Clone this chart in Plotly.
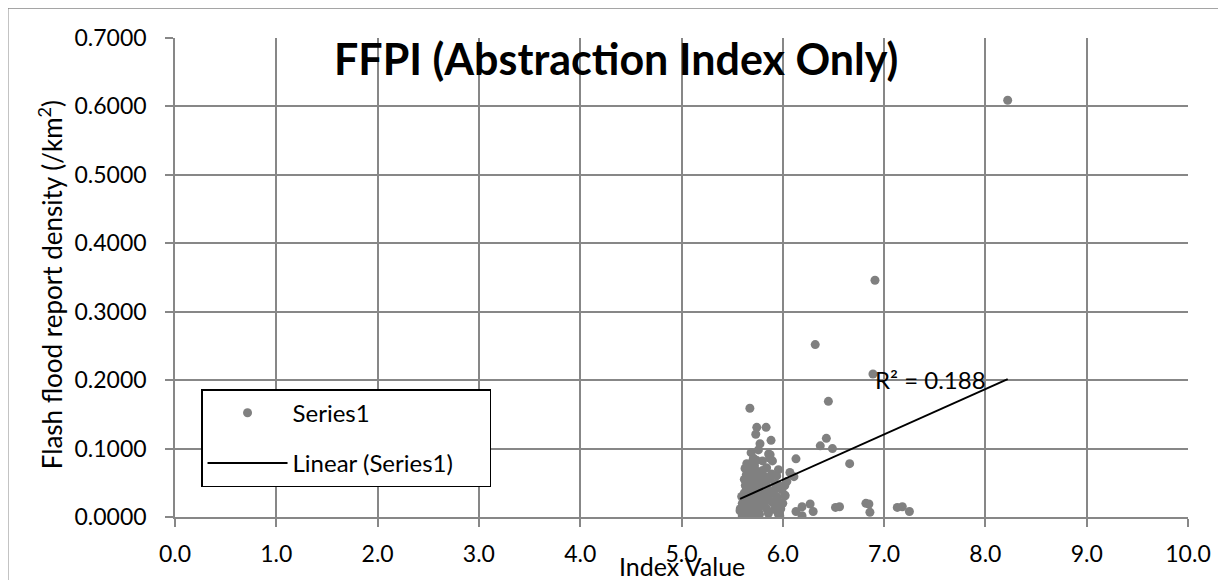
import plotly.graph_objects as go

# ---- data ----
index_value = [
    8.22, 6.91, 6.32, 6.89, 6.45, 6.43, 6.37, 6.49, 6.13, 6.66, 6.07, 6.11, 6.02, 6.02,
    6.27, 6.19, 6.13, 6.19, 6.30, 6.52, 6.56, 6.82, 6.85, 6.86, 7.13, 7.18, 7.25,
    5.675, 5.743, 5.835, 5.733, 5.884, 5.775, 5.759, 5.687, 5.875, 5.644, 5.799, 5.898,
    5.627, 5.727, 5.957, 5.825, 5.653, 5.775, 5.924, 5.644, 5.858, 5.990, 6.023, 5.941,
    5.594, 5.825, 5.957, 5.611, 5.693, 5.759, 5.858, 5.957, 5.660, 5.578,
    5.60, 5.62, 5.64, 5.66, 5.68, 5.70, 5.72, 5.74, 5.58, 5.61, 5.63, 5.65, 5.67, 5.69,
    5.71, 5.73, 5.75, 5.77, 5.60, 5.62, 5.64, 5.66, 5.68, 5.70, 5.72, 5.74, 5.76, 5.78,
    5.62, 5.64, 5.66, 5.68, 5.70, 5.72, 5.74, 5.63, 5.65, 5.67, 5.69, 5.71, 5.73, 5.64,
    5.66, 5.68, 5.70, 5.72, 5.66, 5.69, 5.74, 5.62, 5.80, 5.82, 5.84, 5.79, 5.81, 5.86,
    5.88, 5.90, 5.92, 5.94, 5.96, 5.89, 5.84, 5.80, 5.78, 5.76, 5.83, 5.87, 5.91, 5.95,
    5.98, 6.00, 6.04, 5.97, 5.87, 5.86, 5.71,
]
report_density = [
    0.609, 0.346, 0.252, 0.209, 0.169, 0.115, 0.104, 0.100, 0.085, 0.078, 0.065, 0.059, 0.046, 0.032,
    0.019, 0.015, 0.008, 0.002, 0.008, 0.014, 0.015, 0.020, 0.019, 0.007, 0.014, 0.015, 0.008,
    0.159, 0.131, 0.131, 0.121, 0.112, 0.107, 0.098, 0.094, 0.091, 0.078, 0.082, 0.082,
    0.071, 0.069, 0.069, 0.059, 0.057, 0.049, 0.049, 0.042, 0.040, 0.040, 0.031, 0.030,
    0.030, 0.025, 0.018, 0.015, 0.013, 0.008, 0.005, 0.004, 0.003, 0.009,
    0.002, 0.004, 0.001, 0.006, 0.003, 0.002, 0.005, 0.001, 0.012, 0.010, 0.014, 0.011, 0.017, 0.009,
    0.013, 0.018, 0.012, 0.004, 0.020, 0.024, 0.021, 0.027, 0.022, 0.026, 0.031, 0.024, 0.020, 0.016,
    0.035, 0.038, 0.033, 0.040, 0.036, 0.044, 0.037, 0.046, 0.050, 0.045, 0.053, 0.049, 0.056, 0.062,
    0.066, 0.060, 0.064, 0.075, 0.074, 0.079, 0.083, 0.055, 0.030, 0.020, 0.012, 0.044, 0.036, 0.027,
    0.034, 0.021, 0.011, 0.060, 0.046, 0.063, 0.072, 0.068, 0.058, 0.065, 0.048, 0.055, 0.038, 0.025,
    0.012, 0.020, 0.052, 0.002, 0.086, 0.092, 0.086,
]

trend_slope = 0.0662
trend_intercept = -0.3427
r_squared_label = "R² = 0.188"

x_ticks = [0, 1, 2, 3, 4, 5, 6, 7, 8, 9, 10]
y_ticks = [0.0, 0.1, 0.2, 0.3, 0.4, 0.5, 0.6, 0.7]

chart_title = "FFPI (Abstraction Index Only)"
x_title = "Index Value"
y_title = "Flash flood report density (/km<sup>2</sup>)"

# ---- figure ----
FONT = "Lato, 'DejaVu Sans', sans-serif"
GRID = "#878787"

trend_x = [min(index_value), max(index_value)]
trend_y = [trend_intercept + trend_slope * v for v in trend_x]

NB = "\u00a0"

fig = go.Figure()
fig.add_trace(go.Scatter(
    x=index_value, y=report_density, mode="markers", name="Series1",
    marker=dict(color="#808080", size=9, line=dict(width=0)),
    legendgroup="a",
))
fig.add_trace(go.Scatter(
    x=trend_x, y=trend_y, mode="lines", name="Linear (Series1)" + NB * 5,
    line=dict(color="black", width=2),
    legendgroup="b",
))

fig.update_layout(
    width=1218, height=572,
    margin=dict(l=167, r=38, t=30, b=63),
    paper_bgcolor="white", plot_bgcolor="white",
    font=dict(family=FONT, size=23, color="black"),
    showlegend=True,
    legend=dict(
        x=0.0257, y=0.267, xanchor="left", yanchor="top",
        bordercolor="black", borderwidth=1.5, bgcolor="white",
        font=dict(size=24, family=FONT), itemwidth=80, tracegroupgap=16,
    ),
    xaxis=dict(
        range=[0, 10], tickvals=x_ticks, tickformat=".1f",
        showgrid=True, gridcolor=GRID, gridwidth=1.5,
        showline=True, linecolor=GRID, linewidth=1.5,
        ticks="outside", ticklen=8, tickcolor=GRID, tickwidth=1.5,
        zeroline=False, ticklabelstandoff=8,
        tickfont=dict(size=23),
    ),
    yaxis=dict(
        range=[0, 0.7], tickvals=y_ticks, tickformat=".4f",
        showgrid=True, gridcolor=GRID, gridwidth=1.5,
        showline=True, linecolor=GRID, linewidth=1.5,
        ticks="outside", ticklen=8, tickcolor=GRID, tickwidth=1.5,
        zeroline=False, ticklabelstandoff=14,
        tickfont=dict(size=23),
    ),
)

fig.add_annotation(
    text=f"<b>{chart_title}</b>", xref="paper", yref="paper",
    x=0.4353, y=0.957, xanchor="center", yanchor="middle",
    showarrow=False, font=dict(size=43, family=FONT, color="black"),
)
fig.add_annotation(
    text=x_title, xref="paper", yref="paper",
    x=0.5, y=-0.102, xanchor="center", yanchor="middle",
    showarrow=False, font=dict(size=25, family=FONT, color="black"),
)
fig.add_annotation(
    text=y_title, xref="paper", yref="paper", textangle=-90,
    x=-0.1234, y=0.486, xanchor="center", yanchor="middle",
    showarrow=False, font=dict(size=26, family=FONT, color="black"),
)
fig.add_annotation(
    text=r_squared_label, xref="x", yref="y",
    x=6.89, y=0.2005, xanchor="left", yanchor="middle",
    showarrow=False, font=dict(size=24, family=FONT, color="black"),
)
# chart-area border (only top/left visible in the reference window)
fig.add_shape(
    type="rect", xref="paper", yref="paper",
    x0=-0.1651, x1=1.2, y0=-0.3, y1=1.0626,
    line=dict(color="#888888", width=1.5), layer="below",
)

fig.write_html("out.html")
